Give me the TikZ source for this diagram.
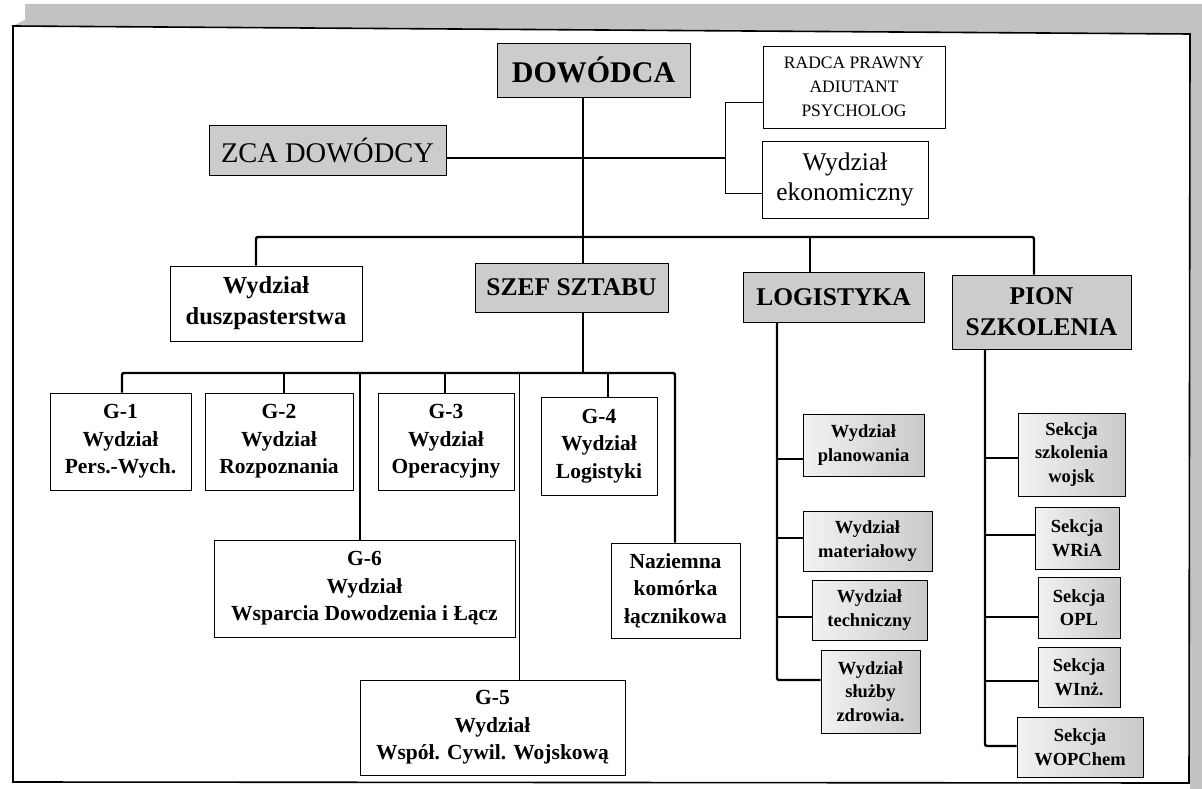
\documentclass[tikz,border=0pt]{standalone}
\usepackage{fontspec}
\setmainfont{Liberation Serif}
\definecolor{boxgray}{gray}{0.80}
\definecolor{scangray}{gray}{0.76}
\tikzset{
  box/.style={draw=black, line width=0.9pt, align=center, inner sep=0pt},
  gbox/.style={box, fill=boxgray},
  sbox/.style={box, left color=gray!10, right color=gray!42},
  conn/.style={line width=2.4pt, rounded corners=2pt},
  fineconn/.style={line width=1pt},
  fTop/.style={font=\bfseries\fontsize{30}{36}\selectfont},
  fHead/.style={font=\bfseries\fontsize{25.5}{31}\selectfont},
  fZca/.style={font=\fontsize{28.5}{32}\selectfont},
  fRadca/.style={font=\fontsize{17.5}{24}\selectfont},
  fEkon/.style={font=\fontsize{25.5}{30}\selectfont},
  fDusz/.style={font=\bfseries\fontsize{24.5}{31}\selectfont},
  fG/.style={font=\bfseries\fontsize{21.5}{27.5}\selectfont},
  fSmall/.style={font=\bfseries\fontsize{18.5}{23.5}\selectfont},
}
\begin{document}
\begin{tikzpicture}[x=1pt,y=-1pt]
\useasboundingbox (0,0) rectangle (1202,789);
\fill[white] (0,0) rectangle (1202,789);
% scanned background strips
\fill[scangray] (25,4) -- (1202,4) -- (1202,789) -- (1190,789) -- (1190,34) -- (13,26) -- (25,20) -- cycle;
% frame
\draw[line width=1.6pt] (13,26) -- (1190,34) -- (1189,783) -- (13,782) -- cycle;

% nodes
\node[gbox, fTop, minimum width=193pt, minimum height=54pt] (dow) at (593.5,70) {DOWÓDCA};
\node[box, fRadca, minimum width=182pt, minimum height=82pt] (radca) at (854,87) {RADCA PRAWNY\\ADIUTANT\\PSYCHOLOG};
\node[gbox, fZca, minimum width=237pt, minimum height=50pt] (zca) at (327.5,150) {ZCA DOWÓDCY};
\node[box, fEkon, minimum width=166pt, minimum height=77pt] (ekon) at (845,179.5) {Wydział\\ekonomiczny};

\node[box, fDusz, minimum width=192pt, minimum height=75pt] (dusz) at (266,303.5) {Wydział\\duszpasterstwa};
\node[gbox, fHead, minimum width=193pt, minimum height=49pt] (szef) at (571.5,287.5) {SZEF SZTABU};
\node[gbox, fHead, minimum width=181pt, minimum height=50pt] (logi) at (833.5,297) {LOGISTYKA};
\node[gbox, fHead, minimum width=179pt, minimum height=74pt] (pion) at (1041.5,312) {PION\\SZKOLENIA};

\node[box, fG, minimum width=141pt, minimum height=97pt] (g1) at (120.5,441.5) {G-1\\Wydział\\Pers.-Wych.};
\node[box, fG, minimum width=148pt, minimum height=97pt] (g2) at (279,441.5) {G-2\\Wydział\\Rozpoznania};
\node[box, fG, minimum width=136pt, minimum height=97pt] (g3) at (446,441.5) {G-3\\Wydział\\Operacyjny};
\node[box, fG, minimum width=116pt, minimum height=98pt] (g4) at (599,446) {G-4\\Wydział\\Logistyki};
\node[box, fG, minimum width=301pt, minimum height=97pt] (g6) at (364.5,588.5) {G-6\\Wydział\\Wsparcia Dowodzenia i Łącz};
\node[box, fG, minimum width=129pt, minimum height=95pt] (naz) at (675.5,590.5) {Naziemna\\komórka\\łącznikowa};
\node[box, fG, minimum width=265pt, minimum height=95pt] (g5) at (492.5,727.5) {G-5\\Wydział\\Współ. Cywil. Wojskową};

\node[sbox, fSmall, minimum width=121pt, minimum height=62pt] (plan) at (863.5,445) {Wydział\\planowania};
\node[sbox, fSmall, minimum width=129pt, minimum height=60pt] (mat) at (867.5,541) {Wydział\\materiałowy};
\node[sbox, fSmall, minimum width=115pt, minimum height=60pt] (tech) at (869.5,610) {Wydział\\techniczny};
\node[sbox, fSmall, minimum width=99pt, minimum height=83pt] (zdr) at (870.5,691.5) {Wydział\\służby\\zdrowia.};

\node[sbox, fSmall, minimum width=107pt, minimum height=83pt] (sszk) at (1071.5,454.5) {Sekcja\\szkolenia\\wojsk};
\node[sbox, fSmall, minimum width=84pt, minimum height=62pt] (wria) at (1077,538) {Sekcja\\WRiA};
\node[sbox, fSmall, minimum width=82pt, minimum height=61pt] (opl) at (1079,607.5) {Sekcja\\OPL};
\node[sbox, fSmall, minimum width=82pt, minimum height=60pt] (winz) at (1079,677) {Sekcja\\WInż.};
\node[sbox, fSmall, minimum width=126pt, minimum height=60pt] (wop) at (1080,747) {Sekcja\\WOPChem};

% helper coordinates
\coordinate (trunk) at (583,237);
\coordinate (busL) at (256,237);
\coordinate (busR) at (1034,237);
\coordinate (busLog) at (810,237);
\coordinate (zl) at (725,158);
\coordinate (bt) at (725,103);
\coordinate (bb) at (725,193);
\coordinate (b2) at (583,373);
\coordinate (b2L) at (122,373);
\coordinate (b2R) at (675,373);
\coordinate (c2) at (284,373);
\coordinate (c6) at (360,373);
\coordinate (c3) at (445,373);
\coordinate (c5) at (519,373);
\coordinate (c4) at (608,373);
\coordinate (ls1) at (777,459);
\coordinate (ls2) at (777,538);
\coordinate (ls3) at (777,617);
\coordinate (ls4) at (777,680);
\coordinate (ps1) at (985,458);
\coordinate (ps2) at (985,535);
\coordinate (ps3) at (985,617);
\coordinate (ps4) at (985,681);
\coordinate (ps5) at (985,746);

% connectors
\draw[conn] (trunk |- dow.south) -- (trunk |- szef.north);
\draw[conn] (zca.east |- zl) -- (zl);
\draw[fineconn] (radca.west |- bt) -- (bt) -- (bb) -- (ekon.west |- bb);
\draw[conn] (busL |- dusz.north) -- (busL) -- (busR) -- (busR |- pion.north);
\draw[conn] (busLog) -- (busLog |- logi.north);

\draw[conn] (b2 |- szef.south) -- (b2);
\draw[conn] (b2L |- g1.north) -- (b2L) -- (b2R) -- (b2R |- naz.north);
\draw[conn] (c2) -- (c2 |- g2.north);
\draw[conn] (c6) -- (c6 |- g6.north);
\draw[conn] (c3) -- (c3 |- g3.north);
\draw[fineconn] (c5) -- (c5 |- g5.north);
\draw[conn] (c4) -- (c4 |- g4.north);

\draw[conn] (ls1 |- logi.south) -- (ls4) -- (ls4 -| zdr.west);
\draw[conn] (ls1) -- (ls1 -| plan.west);
\draw[conn] (ls2) -- (ls2 -| mat.west);
\draw[conn] (ls3) -- (ls3 -| tech.west);

\draw[conn] (ps1 |- pion.south) -- (ps5) -- (ps5 -| wop.west);
\draw[conn] (ps1) -- (ps1 -| sszk.west);
\draw[conn] (ps2) -- (ps2 -| wria.west);
\draw[conn] (ps3) -- (ps3 -| opl.west);
\draw[conn] (ps4) -- (ps4 -| winz.west);
\end{tikzpicture}
\end{document}
